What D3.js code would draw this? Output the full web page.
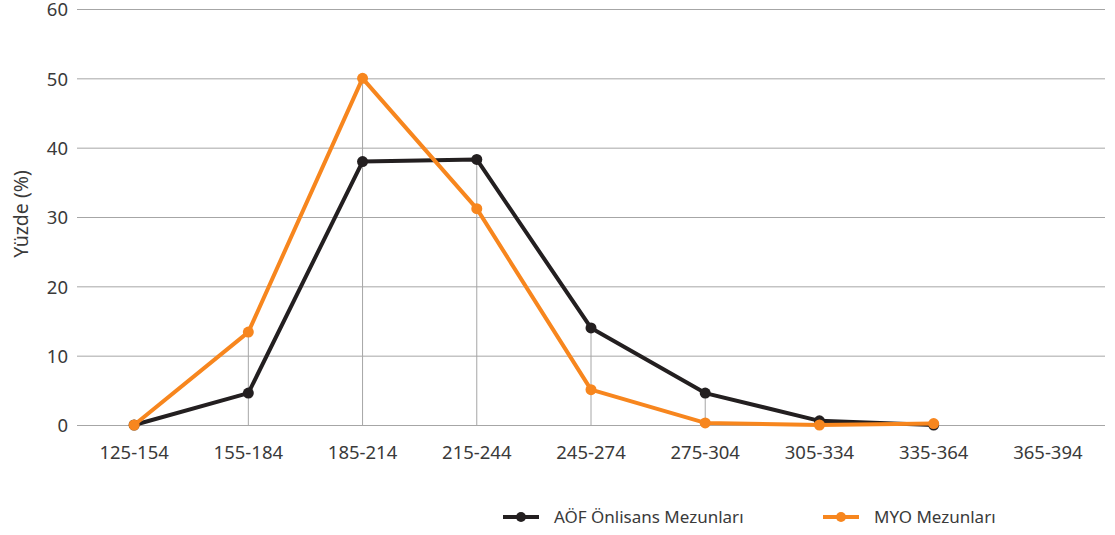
<!DOCTYPE html>
<html><head><meta charset="utf-8">
<script src="https://cdn.jsdelivr.net/npm/d3@7"></script>
<style>body{margin:0;background:#fff}svg{display:block}text{font-family:"Noto Sans",sans-serif;fill:#3a3a3a}</style>
</head><body><svg id="c" width="1115" height="535"></svg>
<script>
const categories = ["125-154","155-184","185-214","215-244","245-274","275-304","305-334","335-364","365-394"];
const aofValues = [0, 4.6, 38.0, 38.3, 14.0, 4.6, 0.6, 0.0, null];
const myoValues = [0, 13.4, 50.0, 31.2, 5.1, 0.3, 0.0, 0.2, null];
const yTicks = [0,10,20,30,40,50,60];
const seriesNames = ["AÖF Önlisans Mezunları","MYO Mezunları"];
const colors = ["#231f20","#f7861e"];

(function(){
const svg = d3.select("#c");
const mL = 77, mR = 1105, mT = 9, mB = 425;
const FS = 18.5;
const x = d3.scaleBand().domain(categories).range([mL, mR]);
const y = d3.scaleLinear().domain([0,60]).range([mB, mT]);
const cx = c => x(c) + x.bandwidth()/2;

// horizontal grid
const yAxis = d3.axisLeft(y).tickValues(yTicks).tickSize(-(mR-mL)).tickPadding(10);
const gy = svg.append("g").attr("transform",`translate(${mL},0)`).call(yAxis);
gy.select(".domain").remove();
gy.selectAll(".tick line").attr("stroke","#a6a6a6").attr("stroke-width",1);
gy.selectAll(".tick text").attr("font-size",FS).attr("x",-9).attr("dy","0.36em");

// drop lines
categories.forEach((c,i)=>{
  const a = aofValues[i], m = myoValues[i];
  if (a==null || m==null) return;
  const mx = Math.max(a,m);
  if (mx < 1) return;
  svg.append("line").attr("x1",cx(c)).attr("x2",cx(c)).attr("y1",y(mx)).attr("y2",y(0))
    .attr("stroke","#a6a6a6").attr("stroke-width",1);
});

// x axis labels
const xAxis = d3.axisBottom(x).tickSize(0).tickPadding(21);
const gx = svg.append("g").attr("transform",`translate(0,${mB})`).call(xAxis);
gx.select(".domain").remove();
gx.selectAll(".tick text").attr("font-size",FS);

// y label
svg.append("text").attr("transform","translate(21,214) rotate(-90)").attr("text-anchor","middle")
  .attr("dy","0.35em").attr("font-size",19.5).text("Yüzde (%)");

const line = d3.line().defined(d=>d.v!=null).x(d=>cx(d.c)).y(d=>y(d.v));
[aofValues, myoValues].forEach((vals,si)=>{
  const data = categories.map((c,i)=>({c, v: vals[i]}));
  svg.append("path").datum(data).attr("d",line).attr("fill","none")
    .attr("stroke",colors[si]).attr("stroke-width",4).attr("stroke-linejoin","round");
  svg.selectAll(null).data(data.filter(d=>d.v!=null)).enter().append("circle")
    .attr("cx",d=>cx(d.c)).attr("cy",d=>y(d.v)).attr("r",5.5).attr("fill",colors[si]);
});

// legend
const legX = [503, 823];
seriesNames.forEach((n,i)=>{
  const g = svg.append("g").attr("transform",`translate(${legX[i]},517)`);
  g.append("line").attr("x1",0).attr("x2",36).attr("stroke",colors[i]).attr("stroke-width",4);
  g.append("circle").attr("cx",18).attr("r",5).attr("fill",colors[i]);
  g.append("text").attr("x",51).attr("dy","0.35em").attr("font-size",17).text(n);
});
})();
</script></body></html>
